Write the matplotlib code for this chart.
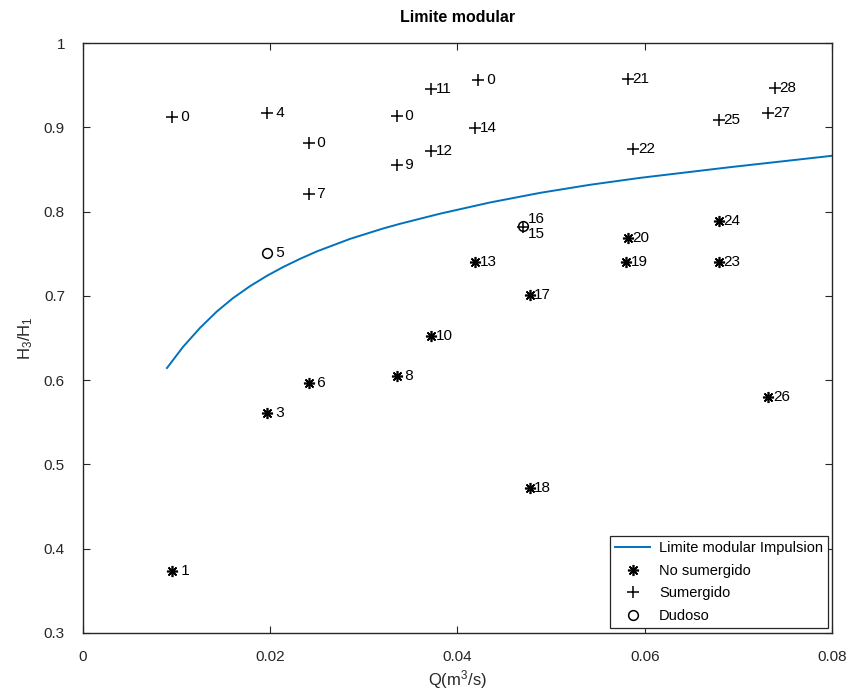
import matplotlib
matplotlib.use("Agg")
import matplotlib.pyplot as plt

# --- data ---

# limite modular curve (Q, H3/H1)
curve_q = [0.00897, 0.01068, 0.01250, 0.01431, 0.01602, 0.01784, 0.01965, 0.02136,
           0.02318, 0.02499, 0.02852, 0.03204, 0.03386, 0.03813, 0.04347, 0.04881,
           0.05415, 0.05949, 0.06911, 0.08000]
curve_h = [0.6144, 0.6394, 0.6620, 0.6816, 0.6973, 0.7115, 0.7238, 0.7341,
           0.7439, 0.7528, 0.7676, 0.7799, 0.7855, 0.7975, 0.8108, 0.8222,
           0.8318, 0.8400, 0.8527, 0.8662]

# no sumergido
ns_q = [0.0095, 0.0197, 0.0241, 0.0335, 0.0372, 0.0419, 0.0477, 0.0477,
        0.0580, 0.0582, 0.0679, 0.0679, 0.0732]
ns_h = [0.374, 0.561, 0.597, 0.605, 0.652, 0.740, 0.701, 0.472,
        0.740, 0.769, 0.740, 0.789, 0.580]
ns_lab = ['1', '3', '6', '8', '10', '13', '17', '18', '19', '20', '23', '24', '26']

# sumergido
s_q = [0.0095, 0.0197, 0.0241, 0.0241, 0.0335, 0.0335, 0.0372, 0.0372,
       0.0422, 0.0419, 0.0470, 0.0582, 0.0588, 0.0679, 0.0732, 0.0739]
s_h = [0.912, 0.917, 0.881, 0.821, 0.913, 0.855, 0.945, 0.872,
       0.956, 0.899, 0.782, 0.957, 0.874, 0.909, 0.917, 0.947]
s_lab = ['0', '4', '0', '7', '0', '9', '11', '12',
         '0', '14', '15', '21', '22', '25', '27', '28']

# dudoso
d_q = [0.0197, 0.0470]
d_h = [0.751, 0.783]
d_lab = ['5', '16']

plt.rcParams['font.family'] = ['Liberation Sans', 'DejaVu Sans']
plt.rcParams['mathtext.default'] = 'regular'
ink = '#262626'

fig = plt.figure(figsize=(8.52, 6.94), dpi=100)
ax = fig.add_axes([0.0974, 0.0879, 0.8791, 0.8501])

ax.plot(curve_q, curve_h, color='#0072BD', lw=1.4, label='Limite modular Impulsion')
ax.plot(ns_q, ns_h, ls='none', marker=(8, 2, 0), ms=8, mew=1.2, color='k',
        label='No sumergido')
ax.plot(s_q, s_h, ls='none', marker='+', ms=9, mew=1.1, color='k', label='Sumergido')
ax.plot(d_q, d_h, ls='none', marker='o', ms=7, mew=1.1, mfc='none', mec='k',
        label='Dudoso')

# point labels, single digits padded like a char matrix
valign = {'16': 'bottom', '15': 'top'}
for qs, hs, labs in [(ns_q, ns_h, ns_lab), (s_q, s_h, s_lab), (d_q, d_h, d_lab)]:
    for q, h, t in zip(qs, hs, labs):
        ax.text(q + 0.0005, h, t.rjust(2), fontsize=11, color='k',
                va=valign.get(t, 'center'), ha='left')

ax.set_xlim(0, 0.08)
ax.set_ylim(0.3, 1)
ax.set_xticks([0, 0.02, 0.04, 0.06, 0.08])
ax.set_xticklabels(['0', '0.02', '0.04', '0.06', '0.08'])
ax.set_yticks([0.3, 0.4, 0.5, 0.6, 0.7, 0.8, 0.9, 1])
ax.set_yticklabels(['0.3', '0.4', '0.5', '0.6', '0.7', '0.8', '0.9', '1'])
ax.tick_params(direction='in', top=True, right=True, length=5, width=0.8,
               labelsize=11, colors=ink)
ax.tick_params(axis='x', pad=12)
ax.tick_params(axis='y', pad=13)
for sp in ax.spines.values():
    sp.set_linewidth(1.0)
    sp.set_color(ink)

ax.set_title('Limite modular', fontsize=11.5, fontweight='bold', color='k', pad=15)
ax.set_xlabel('Q(m$^3$/s)', fontsize=12, color=ink, labelpad=3)
ax.set_ylabel('H$_3$/H$_1$', fontsize=12, color=ink, labelpad=6)

leg = ax.legend(loc='lower right', bbox_to_anchor=(0.995, 0.008), borderaxespad=0,
                fontsize=10.5, fancybox=False, framealpha=1, edgecolor=ink,
                handlelength=2.4, handletextpad=0.6, labelspacing=0.6,
                borderpad=0.35)
leg.get_frame().set_linewidth(0.9)

fig.savefig('out.png', dpi=100)
